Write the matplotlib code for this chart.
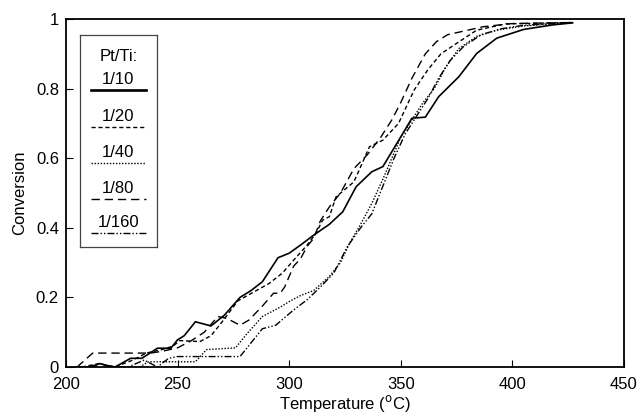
import matplotlib
matplotlib.use("Agg")
import matplotlib.pyplot as plt

plt.rcParams['font.family'] = ['Liberation Sans', 'DejaVu Sans']

# conversion curves, Pt/Ti ratio -> (T in C, conversion)
t_10 = [204, 212, 215, 218, 222, 229, 234, 241, 247, 250, 253, 258, 265, 271, 278, 283, 288, 295, 300,
        305, 311, 318, 324, 330, 337, 342, 348, 355, 361, 367, 376, 384, 393, 405, 418, 427]
c_10 = [0, 0, 0.01, 0.005, 0, 0.025, 0.025, 0.054, 0.054, 0.078, 0.09, 0.13, 0.118, 0.149, 0.2, 0.22, 0.245,
        0.314, 0.327, 0.35, 0.379, 0.41, 0.446, 0.518, 0.561, 0.576, 0.64, 0.715, 0.718, 0.777, 0.834, 0.901,
        0.945, 0.97, 0.983, 0.989]

t_20 = [207, 215, 222, 230, 236, 243, 248, 251, 260, 265, 270, 277, 284, 291, 297, 302, 308, 312, 315,
        318, 321, 329, 336, 342, 349, 356, 362, 368, 375, 384, 397, 427]
c_20 = [0, 0.01, 0, 0.02, 0.04, 0.05, 0.06, 0.076, 0.073, 0.09, 0.13, 0.19, 0.215, 0.24, 0.27, 0.307, 0.35,
        0.384, 0.422, 0.432, 0.489, 0.532, 0.633, 0.652, 0.70, 0.796, 0.853, 0.90, 0.93, 0.968, 0.986, 0.99]

t_40 = [233, 237, 250, 258, 263, 276, 281, 288, 296, 300, 305, 311, 318, 323, 327, 332, 337, 342, 346,
        350, 355, 360, 365, 370, 376, 384, 393, 405, 427]
c_40 = [0, 0.015, 0.015, 0.015, 0.05, 0.055, 0.095, 0.145, 0.172, 0.188, 0.205, 0.22, 0.26, 0.3, 0.355,
        0.41, 0.47, 0.54, 0.6, 0.66, 0.71, 0.76, 0.8, 0.86, 0.915, 0.95, 0.968, 0.98, 0.99]

t_80 = [205, 212, 238, 243, 250, 256, 262, 268, 272, 278, 282, 288, 293, 296, 298, 302, 305, 308, 311,
        314, 318, 323, 329, 335, 341, 346, 350, 355, 361, 366, 371, 378, 387, 400, 427]
c_80 = [0, 0.04, 0.04, 0.045, 0.055, 0.075, 0.1, 0.145, 0.14, 0.12, 0.135, 0.175, 0.212, 0.212, 0.23,
        0.29, 0.31, 0.346, 0.37, 0.42, 0.46, 0.5, 0.57, 0.61, 0.66, 0.71, 0.76, 0.83, 0.90, 0.935, 0.955,
        0.965, 0.978, 0.987, 0.99]

t_160 = [210, 215, 220, 228, 235, 241, 246, 250, 278, 288, 294, 302, 308, 314, 320, 326, 332, 337, 342,
         347, 352, 357, 362, 367, 372, 378, 386, 395, 405, 427]
c_160 = [0, 0.01, 0, 0, 0.02, 0, 0.025, 0.03, 0.03, 0.11, 0.12, 0.164, 0.193, 0.23, 0.27, 0.345, 0.4, 0.44,
         0.52, 0.6, 0.67, 0.72, 0.77, 0.83, 0.88, 0.92, 0.955, 0.972, 0.982, 0.99]

labels = ['1/10', '1/20', '1/40', '1/80', '1/160']
styles = ['-', (0, (3, 2)), (0, (1, 1.2)), (0, (6, 3.5)), (0, (5, 1.5, 1, 1.5, 1, 1.5))]
widths = [1.2, 1.0, 1.0, 1.0, 1.0]
series = [(t_10, c_10), (t_20, c_20), (t_40, c_40), (t_80, c_80), (t_160, c_160)]

fig = plt.figure(figsize=(6.4, 4.18), dpi=100)
ax = fig.add_axes([0.103, 0.122, 0.872, 0.8325])

for (t, c), ls, lw in zip(series, styles, widths):
    ax.plot(t, c, color='black', linestyle=ls, linewidth=lw)

ax.set_xlim(200, 450)
ax.set_ylim(0, 1)
ax.set_xticks([200, 250, 300, 350, 400, 450])
ax.set_yticks([0, 0.2, 0.4, 0.6, 0.8, 1])
ax.set_yticklabels(['0', '0.2', '0.4', '0.6', '0.8', '1'])
ax.tick_params(direction='in', length=5, width=0.8, labelsize=12, top=False, right=False)
ax.tick_params(axis='x', pad=7)
ax.tick_params(axis='y', pad=5)
for sp in ax.spines.values():
    sp.set_linewidth(1.3)
ax.set_xlabel('Temperature ($^{\\rm o}$C)', fontsize=12, labelpad=1)
ax.set_ylabel('Conversion', fontsize=12, labelpad=6)

# legend box: label on top of each line sample
lg = fig.add_axes([0.125, 0.409, 0.12, 0.507])
lg.set_xlim(0, 1)
lg.set_ylim(0, 1)
lg.set_xticks([])
lg.set_yticks([])
for sp in lg.spines.values():
    sp.set_linewidth(0.9)
    sp.set_color('#444444')
lg.text(0.5, 0.90, 'Pt/Ti:', ha='center', va='center', fontsize=12)
text_y = [0.79, 0.618, 0.448, 0.278, 0.118]
line_y = [0.74, 0.568, 0.396, 0.228, 0.068]
for lab, ls, lw, ty, ly in zip(labels, styles, widths, text_y, line_y):
    lg.text(0.5, ty, lab, ha='center', va='center', fontsize=12)
    lg.plot([0.14, 0.86], [ly, ly], color='black', linestyle=ls, linewidth=lw * 1.6 if ls == '-' else lw)

fig.savefig('out.png', dpi=100)
